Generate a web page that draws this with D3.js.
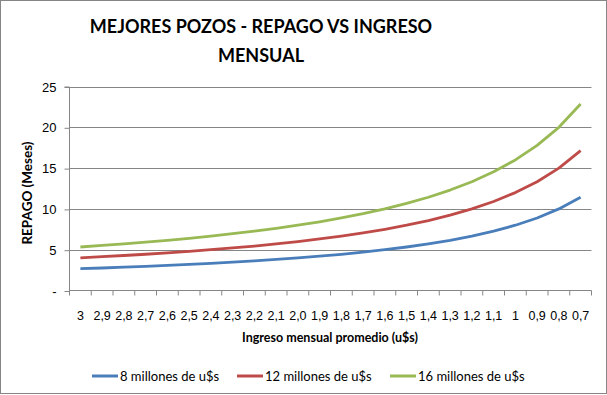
<!DOCTYPE html>
<html>
<head>
<meta charset="utf-8">
<script src="https://cdnjs.cloudflare.com/ajax/libs/d3/7.8.5/d3.min.js"></script>
<style>
body { margin: 0; background: #fff; }
svg { font-family: Lato, "Open Sans", sans-serif; }
.grid line { stroke: #868686; stroke-width: 1; }
.axis path, .axis line { stroke: #868686; }
.axis text { fill: #000; font-size: 13px; }
.xaxis text { font-size: 12.5px; }
</style>
</head>
<body>
<svg width="607" height="395"></svg>
<script>
// ingreso mensual promedio (millones u$s)
var categories = ["3", "2,9", "2,8", "2,7", "2,6", "2,5", "2,4", "2,3", "2,2", "2,1", "2,0", "1,9",
  "1,8", "1,7", "1,6", "1,5", "1,4", "1,3", "1,2", "1,1", "1", "0,9", "0,8", "0,7"];
var repago8 = [2.67, 2.76, 2.86, 2.96, 3.08, 3.20, 3.33, 3.48, 3.64, 3.81, 4.00, 4.21,
  4.44, 4.71, 5.00, 5.33, 5.71, 6.15, 6.67, 7.27, 8.00, 8.89, 10.00, 11.43];
var repago12 = [4.00, 4.14, 4.29, 4.44, 4.62, 4.80, 5.00, 5.22, 5.45, 5.71, 6.00, 6.32,
  6.67, 7.06, 7.50, 8.00, 8.57, 9.23, 10.00, 10.91, 12.00, 13.33, 15.00, 17.14];
var repago16 = [5.33, 5.52, 5.71, 5.93, 6.15, 6.40, 6.67, 6.96, 7.27, 7.62, 8.00, 8.42,
  8.89, 9.41, 10.00, 10.67, 11.43, 12.31, 13.33, 14.55, 16.00, 17.78, 20.00, 22.86];
var seriesNames = ["8 millones de u$s", "12 millones de u$s", "16 millones de u$s"];
var yTicks = [0, 5, 10, 15, 20, 25];

var colors = ["#4A7EBB", "#BE4B48", "#98B954"];
var series = [repago8, repago12, repago16];

var svg = d3.select("svg");

// borde exterior
svg.append("rect")
  .attr("x", 0.5).attr("y", 0.5)
  .attr("width", 606).attr("height", 393)
  .attr("fill", "#fff").attr("stroke", "#868686");

var x = d3.scaleBand()
  .domain(categories)
  .range([69.5, 591.5]);
var y = d3.scaleLinear()
  .domain([0, 25])
  .range([290.5, 86.5]);

// grilla
svg.append("g")
  .attr("class", "grid")
  .selectAll("line")
  .data(yTicks.slice(1))
  .enter().append("line")
    .attr("x1", 69.5).attr("x2", 591.5)
    .attr("y1", function(d) { return Math.round(y(d)) + 0.5; })
    .attr("y2", function(d) { return Math.round(y(d)) + 0.5; });

// eje y
var yAxis = svg.append("g")
  .attr("class", "axis")
  .attr("transform", "translate(69.5,0.5)")
  .call(d3.axisLeft(y).tickValues(yTicks).tickSize(5).tickPadding(8)
    .tickFormat(function(d) { return d === 0 ? "-" : d; }));
yAxis.select(".domain").attr("d", "M-5," + y(25) + "H0V" + y(0));

// eje x
var xAxis = svg.append("g")
  .attr("class", "axis xaxis")
  .attr("transform", "translate(0,290.5)")
  .call(d3.axisBottom(x).tickSize(0).tickPadding(21));
xAxis.select(".domain").attr("d", "M69.5,0H591.5");
xAxis.selectAll(".xtick")
  .data(categories.concat([null]))
  .enter().append("line")
    .attr("class", "xtick")
    .attr("x1", function(d, i) { return i < categories.length ? x(d) : x.range()[1]; })
    .attr("x2", function(d, i) { return i < categories.length ? x(d) : x.range()[1]; })
    .attr("y1", 0).attr("y2", 5)
    .attr("stroke", "#868686");

// lineas
var line = d3.line()
  .x(function(d, i) { return x(categories[i]) + x.bandwidth() / 2; })
  .y(function(d) { return y(d); });

svg.selectAll(".serie")
  .data(series)
  .enter().append("path")
    .attr("class", "serie")
    .attr("d", line)
    .attr("fill", "none")
    .attr("stroke", function(d, i) { return colors[i]; })
    .attr("stroke-width", 2.8)
    .attr("stroke-linejoin", "round");

// titulos
svg.append("text")
  .attr("x", 261).attr("y", 33)
  .attr("text-anchor", "middle")
  .attr("font-size", 18).attr("font-weight", "bold")
  .text("MEJORES POZOS - REPAGO VS INGRESO");
svg.append("text")
  .attr("x", 261).attr("y", 62)
  .attr("text-anchor", "middle")
  .attr("font-size", 18).attr("font-weight", "bold")
  .text("MENSUAL");

svg.append("text")
  .attr("transform", "translate(32,193) rotate(-90)")
  .attr("text-anchor", "middle")
  .attr("font-size", 13.5).attr("font-weight", "bold")
  .text("REPAGO (Meses)");

svg.append("text")
  .attr("x", 330).attr("y", 342)
  .attr("text-anchor", "middle")
  .attr("font-size", 12.5).attr("font-weight", "bold")
  .text("Ingreso mensual promedio (u$s)");

// leyenda
var legendX = [92, 237, 390];
var legend = svg.selectAll(".leg")
  .data(seriesNames)
  .enter().append("g")
    .attr("class", "leg")
    .attr("transform", function(d, i) { return "translate(" + legendX[i] + ",376)"; });
legend.append("line")
  .attr("x1", 0).attr("x2", 26)
  .attr("stroke", function(d, i) { return colors[i]; })
  .attr("stroke-width", 3);
legend.append("text")
  .attr("x", 28).attr("y", 4.5)
  .attr("font-size", 13)
  .text(function(d) { return d; });
</script>
</body>
</html>
